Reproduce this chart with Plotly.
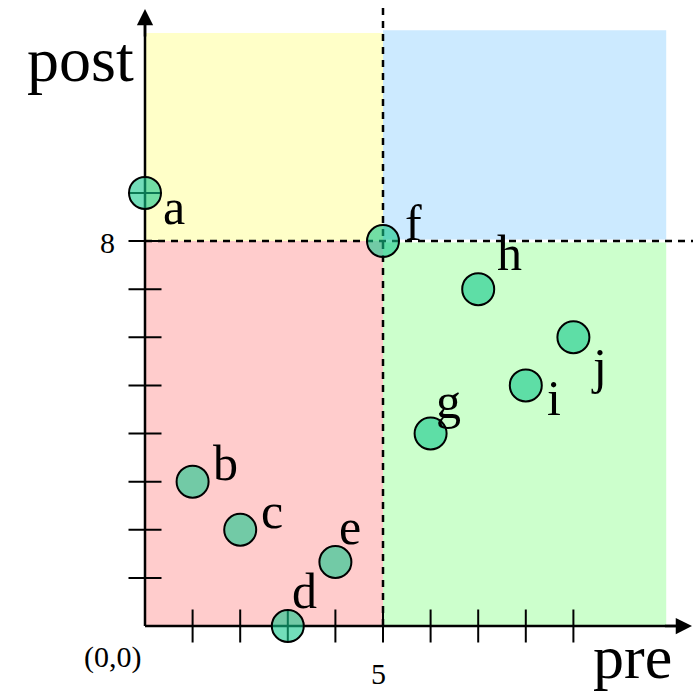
import plotly.graph_objects as go

# Point data
names = ["a", "b", "c", "d", "e", "f", "g", "h", "i", "j"]
pre = [0, 1, 2, 3, 4, 5, 6, 7, 8, 9]
post = [9, 3, 2, 0, 1.33, 8, 4, 7, 5, 6]

# Thresholds splitting the plane into quadrants
pre_cut = 5
post_cut = 8
pre_max = 10.95
post_max_left = 12.32
post_max_right = 12.38

x_ticks = [1, 2, 3, 4, 5, 6, 7, 8, 9]
y_ticks = [1, 2, 3, 4, 5, 6, 7, 8, 9]

# Label offsets in pixels (dx right, dy up) for each point letter
label_offsets = [(29, -14), (33, 19), (32, 19), (17, 35), (15, 35),
                 (30, 18), (18, 33), (31, 36), (28, -13), (26, -29)]

SERIF = "Liberation Serif"
X_RANGE = [-145 / 47.6, (693 - 145) / 47.6]
Y_RANGE = [(626 - 694) / 48.125, 626 / 48.125]
TX = 16.5 / 47.6   # half tick length in x data units
TY = 16.5 / 48.125  # half tick length in y data units

shapes = []


def rect(x0, x1, y0, y1, color):
    shapes.append(dict(type="rect", xref="x", yref="y", x0=x0, x1=x1, y0=y0, y1=y1,
                       fillcolor=color, line=dict(width=0), layer="below"))


rect(0, pre_cut, post_cut, post_max_left, "#ffffc8")
rect(pre_cut, pre_max, post_cut + 0.03, post_max_right, "#cceaff")
rect(0, pre_cut, 0, post_cut, "#ffcccc")
rect(pre_cut, pre_max, 0, post_cut - 0.03, "#ccffcc")


def line(x0, y0, x1, y1, width=2.5, dash="solid"):
    shapes.append(dict(type="line", xref="x", yref="y", x0=x0, y0=y0, x1=x1, y1=y1,
                       line=dict(color="black", width=width, dash=dash), layer="below"))


# Dashed threshold lines
line(pre_cut, 0, pre_cut, (626 - 7) / 48.125, width=2.5, dash="7px,6px")
line(0, post_cut, X_RANGE[1], post_cut, width=2.5, dash="7px,6px")

# Axes
x_tip = (692 - 145) / 47.6
y_tip = (626 - 9) / 48.125
line(0, 0, x_tip - 0.2, 0)
line(0, 0, 0, y_tip - 0.2)

# Ticks crossing the axes
for t in x_ticks:
    line(t, -TY, t, TY, width=2)
for t in y_ticks:
    line(-TX, t, TX, t, width=2)

fig = go.Figure()
fig.add_trace(go.Scatter(
    x=pre, y=post, mode="markers",
    marker=dict(size=32, color="rgba(20,200,140,0.6)",
                line=dict(color="black", width=2)),
    hoverinfo="skip", showlegend=False,
))

annotations = []
# Arrowheads at the axis tips
annotations.append(dict(x=x_tip, y=0, ax=x_tip - 0.6, ay=0, xref="x", yref="y",
                        axref="x", ayref="y", text="", showarrow=True,
                        arrowhead=2, arrowsize=1.3, arrowwidth=2.5, arrowcolor="black"))
annotations.append(dict(x=0, y=y_tip, ax=0, ay=y_tip - 0.6, xref="x", yref="y",
                        axref="x", ayref="y", text="", showarrow=True,
                        arrowhead=2, arrowsize=1.3, arrowwidth=2.5, arrowcolor="black"))

# Point letters
for n, x, y, (dx, dy) in zip(names, pre, post, label_offsets):
    annotations.append(dict(x=x, y=y, xref="x", yref="y", text=n, showarrow=False,
                            xshift=dx, yshift=dy, xanchor="center", yanchor="middle",
                            font=dict(family=SERIF, size=50, color="black")))

# Tick labels
annotations.append(dict(x=0, y=post_cut, text="8", showarrow=False, xshift=-38, yshift=-1,
                        xanchor="center", yanchor="middle",
                        font=dict(family=SERIF, size=30, color="black")))
annotations.append(dict(x=pre_cut, y=0, text="5", showarrow=False, xshift=-5, yshift=-47,
                        xanchor="center", yanchor="middle",
                        font=dict(family=SERIF, size=30, color="black")))
annotations.append(dict(x=0, y=0, text="(0,0)", showarrow=False, xshift=-33, yshift=-31,
                        xanchor="center", yanchor="middle",
                        font=dict(family=SERIF, size=30, color="black")))

# Axis titles
annotations.append(dict(x=80 / 693, y=1 - 60 / 694, xref="paper", yref="paper", text="post",
                        xanchor="center", yanchor="middle", showarrow=False,
                        font=dict(family=SERIF, size=64, color="black")))
annotations.append(dict(x=632 / 693, y=1 - 657 / 694, xref="paper", yref="paper", text="pre",
                        xanchor="center", yanchor="middle", showarrow=False, borderpad=0,
                        font=dict(family=SERIF, size=62, color="black")))

fig.update_layout(
    width=693, height=694,
    margin=dict(l=0, r=0, t=0, b=0),
    paper_bgcolor="white", plot_bgcolor="white",
    xaxis=dict(range=X_RANGE, visible=False, fixedrange=True),
    yaxis=dict(range=Y_RANGE, visible=False, fixedrange=True),
    shapes=shapes, annotations=annotations,
)

fig.write_html("out.html")
